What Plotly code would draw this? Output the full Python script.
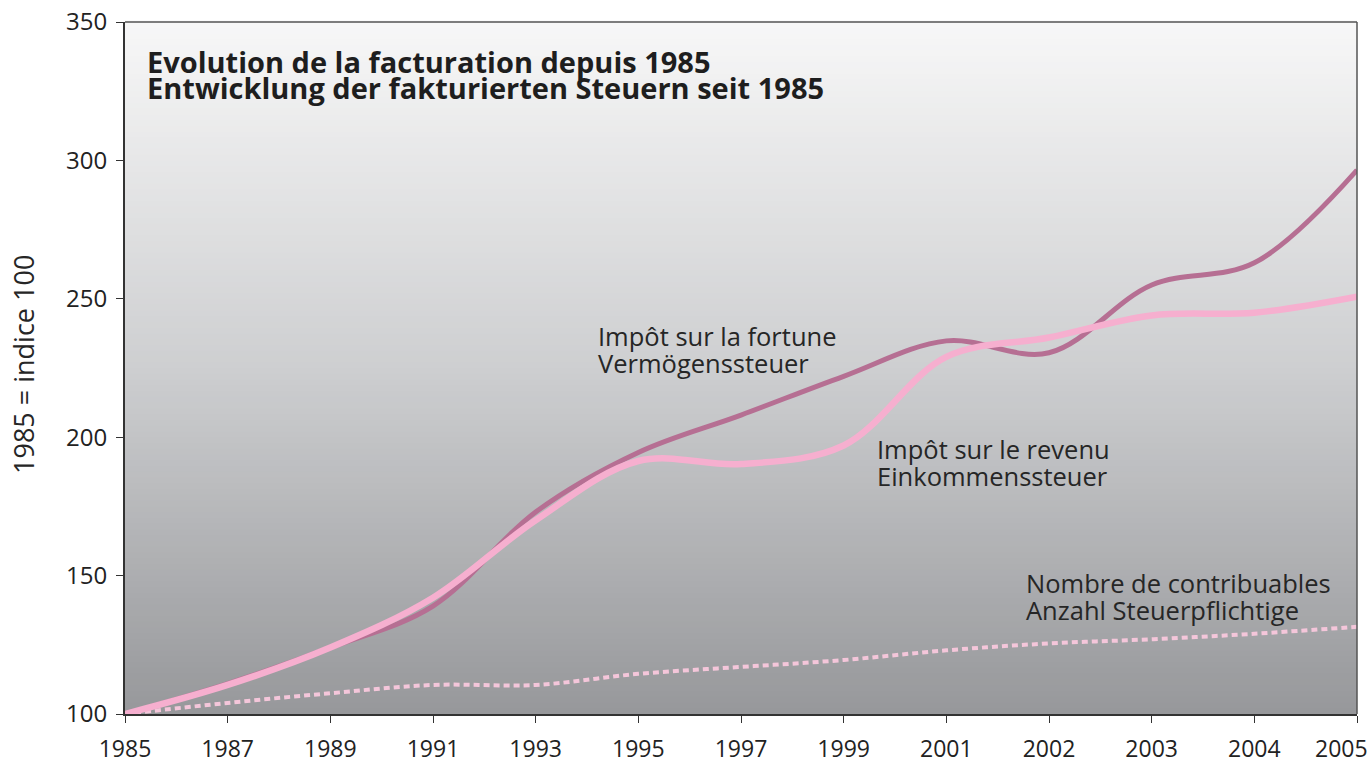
import plotly.graph_objects as go

years = ["1985", "1987", "1989", "1991", "1993", "1995", "1997", "1999",
         "2001", "2002", "2003", "2004", "2005"]
vermoegen = [100, 111, 124, 139, 173, 194.5, 208, 222, 234.8, 230.5, 255, 263, 296.5]
einkommen = [100, 110.5, 124, 142, 170, 191.4, 190.3, 197, 229, 236, 244, 245, 250.8]
contribuables = [100, 104, 107.5, 110.5, 110.5, 114.5, 117, 119.5, 123, 125.5, 127, 129, 131.5]

title_lines = ["Evolution de la facturation depuis 1985",
               "Entwicklung der fakturierten Steuern seit 1985"]
label_fortune = ["Impôt sur la fortune", "Vermögenssteuer"]
label_revenu = ["Impôt sur le revenu", "Einkommenssteuer"]
label_contrib = ["Nombre de contribuables", "Anzahl Steuerpflichtige"]
y_title = "1985 = indice 100"

FONT = "Open Sans"
TXT = "#262626"

# plot area in pixels (for placing text)
L, R, T, B = 125, 1357, 22, 714
def dx(px):
    return (px - L) / (R - L)
def dy(py):
    return (B - py) / (B - T)

fig = go.Figure()
fig.add_trace(go.Scatter(x=years, y=contribuables, mode="lines",
                         line=dict(color="#F4C6DA", width=4, dash="6px,4px", shape="spline", smoothing=1),
                         name="Nombre de contribuables", showlegend=False, hoverinfo="skip"))
fig.add_trace(go.Scatter(x=years, y=vermoegen, mode="lines",
                         line=dict(color="#B66F93", width=5, shape="spline", smoothing=1),
                         name="Vermögenssteuer", showlegend=False, hoverinfo="skip"))
fig.add_trace(go.Scatter(x=years, y=einkommen, mode="lines",
                         line=dict(color="#F6AFCF", width=6.5, shape="spline", smoothing=1),
                         name="Einkommenssteuer", showlegend=False, hoverinfo="skip"))

# gradient background bands
shapes = []
n = 120
def lerp(a, b, t):
    return a + (b - a) * t
for i in range(n):
    t0 = i / n
    t1 = (i + 1) / n
    t = (t0 + t1) / 2  # 0 bottom, 1 top
    if t > 0.5:
        u = (t - 0.5) / 0.5
        r = lerp(206, 248, u); g = lerp(207, 248, u); b = lerp(209, 248, u)
    else:
        u = t / 0.5
        r = lerp(151, 206, u); g = lerp(152, 207, u); b = lerp(155, 209, u)
    shapes.append(dict(type="rect", xref="x domain", yref="y domain",
                       x0=0, x1=1, y0=t0, y1=t1 + 0.002, layer="below",
                       line=dict(width=0), fillcolor=f"rgb({int(r)},{int(g)},{int(b)})"))
# thin top/right border
shapes.append(dict(type="line", xref="x domain", yref="y domain", x0=0, x1=1, y0=1, y1=1,
                   line=dict(color="#555555", width=1.5), layer="above"))
shapes.append(dict(type="line", xref="x domain", yref="y domain", x0=1, x1=1, y0=0, y1=1,
                   line=dict(color="#555555", width=1.5), layer="above"))

annotations = []
def add_block(lines, xpx, ycenter_px, glyph_size, line_gap, bold=False):
    # base font size sets line spacing (1.3 * size); spans set glyph size
    base = line_gap / 1.3
    inner = "<br>".join(f"<span style='font-size:{glyph_size}px'>{t}</span>" for t in lines)
    if bold:
        inner = f"<b>{inner}</b>"
    annotations.append(dict(
        text=inner, xref="x domain", yref="y domain", x=dx(xpx), y=dy(ycenter_px),
        xanchor="left", yanchor="middle", align="left", showarrow=False,
        font=dict(family=FONT, size=base, color="#1e1e1e" if bold else TXT)))

add_block(title_lines, 145, 74, 29, 26, bold=True)
add_block(label_fortune, 596, 349, 25.5, 26.5)
add_block(label_revenu, 875, 462, 25.5, 26.5)
add_block(label_contrib, 1024, 596, 25.5, 26.5)

annotations.append(dict(text=y_title, xref="paper", yref="y domain",
                        x=dx(23), y=dy(365), xanchor="center", yanchor="middle",
                        textangle=-90, showarrow=False,
                        font=dict(family=FONT, size=27, color=TXT)))
# last category label, kept inside the page like in the reference
annotations.append(dict(text=years[-1], xref="paper", yref="y domain",
                        x=dx(1370), y=dy(748), xanchor="right", yanchor="middle",
                        showarrow=False,
                        font=dict(family=FONT, size=23, color="#222222")))

fig.update_layout(
    width=1371, height=765,
    margin=dict(l=L, r=1371 - R, t=T, b=765 - B, autoexpand=False),
    paper_bgcolor="white", plot_bgcolor="rgba(0,0,0,0)",
    shapes=shapes, annotations=annotations,
    showlegend=False,
    font=dict(family=FONT, color=TXT),
)
fig.update_xaxes(type="category", range=[0, 12], showgrid=False, zeroline=False,
                 automargin=False,
                 tickmode="array", tickvals=years, ticktext=years[:-1] + [""],
                 showline=True, linecolor="#333333", linewidth=2,
                 ticks="outside", ticklen=7, tickcolor="#333333", tickwidth=1,
                 ticklabelstandoff=6,
                 tickfont=dict(family=FONT, size=23, color="#222222"))
fig.update_yaxes(range=[100, 350], dtick=50, showgrid=False, zeroline=False,
                 automargin=False,
                 showline=True, linecolor="#333333", linewidth=2,
                 ticks="outside", ticklen=7, tickcolor="#333333", tickwidth=1,
                 ticklabelstandoff=4,
                 tickfont=dict(family=FONT, size=24, color="#222222"))

fig.write_html("out.html", config={"displayModeBar": False},
               post_script="document.body.style.margin='0';document.body.style.overflow='hidden';")
